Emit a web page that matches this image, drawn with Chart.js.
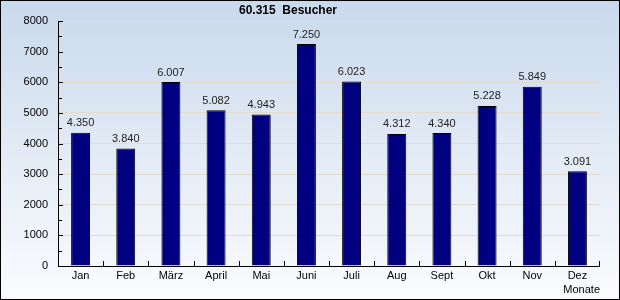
<!DOCTYPE html>
<html>
<head>
<meta charset="utf-8">
<script src="https://cdn.jsdelivr.net/npm/chart.js@4/dist/chart.umd.min.js"></script>
<style>
  html, body { margin: 0; padding: 0; background: #fff; }
  #wrap { width: 620px; height: 300px; }
</style>
</head>
<body>
<div id="wrap"><canvas id="besucherChart" width="620" height="300"></canvas></div>
<script>
var monate = ['Jan', 'Feb', 'März', 'April', 'Mai', 'Juni', 'Juli', 'Aug', 'Sept', 'Okt', 'Nov', 'Dez'];
var besucher = [4350, 3840, 6007, 5082, 4943, 7250, 6023, 4312, 4340, 5228, 5849, 3091];
var titelText = '60.315  Besucher';
var achsenTitel = 'Monate';

function fmt(v) {
    return v.toString().replace(/\B(?=(\d{3})+(?!\d))/g, '.');
}

// background gradient + frame
var hintergrund = {
    id: 'hintergrund',
    beforeDraw: function(chart) {
        var ctx = chart.ctx;
        var g = ctx.createLinearGradient(0, 0, 0, chart.height);
        g.addColorStop(0, '#c9d9ec');
        g.addColorStop(1, '#fbfcfe');
        ctx.save();
        ctx.fillStyle = g;
        ctx.fillRect(0, 0, chart.width, chart.height);
        ctx.strokeStyle = '#000';
        ctx.lineWidth = 1;
        ctx.strokeRect(0.5, 0.5, chart.width - 1, chart.height - 1);
        ctx.restore();
    }
};

// inward ticks, axis lines, value labels, title
var extras = {
    id: 'extras',
    afterDatasetsDraw: function(chart) {
        var ctx = chart.ctx;
        var area = chart.chartArea;
        var xs = chart.scales.x, ys = chart.scales.y;
        var left = Math.round(area.left), bottom = Math.round(area.bottom);
        ctx.save();
        ctx.strokeStyle = '#000';
        ctx.lineWidth = 1;
        ctx.beginPath();
        ctx.moveTo(left + 0.5, area.top);
        ctx.lineTo(left + 0.5, bottom + 0.5);
        ctx.lineTo(area.right, bottom + 0.5);
        // y ticks
        for (var v = 0; v <= 8000; v += 500) {
            var y = Math.round(ys.getPixelForValue(v)) + 0.5;
            var len = (v % 1000 === 0) ? 5 : 4;
            ctx.moveTo(left, y);
            ctx.lineTo(left + len, y);
        }
        // x ticks between categories
        var step = xs.getPixelForValue(1) - xs.getPixelForValue(0);
        for (var i = 0; i < monate.length; i++) {
            var x = Math.round(xs.getPixelForValue(i) + step / 2);
            if (i === monate.length - 1) x = Math.round(area.right) - 1;
            ctx.moveTo(x + 0.5, bottom);
            ctx.lineTo(x + 0.5, bottom - 5);
        }
        ctx.stroke();

        // value labels
        ctx.fillStyle = '#222';
        ctx.font = '11px "Liberation Sans", Arial, sans-serif';
        ctx.textAlign = 'center';
        ctx.textBaseline = 'bottom';
        chart.getDatasetMeta(0).data.forEach(function(bar, idx) {
            ctx.fillText(fmt(besucher[idx]), bar.x, bar.y - 4);
        });

        // title
        ctx.fillStyle = '#000';
        ctx.font = 'bold 12px "Liberation Sans", Arial, sans-serif';
        ctx.textBaseline = 'middle';
        ctx.fillText(titelText, 288, 11);
        ctx.restore();
    }
};

var chart = new Chart(document.getElementById('besucherChart'), {
    type: 'bar',
    data: {
        labels: monate,
        datasets: [{
            label: 'Besucher',
            data: besucher,
            backgroundColor: '#000080',
            borderColor: '#000',
            borderWidth: 1,
            borderSkipped: 'bottom',
            categoryPercentage: 0.42,
            barPercentage: 1.0
        }]
    },
    options: {
        responsive: false,
        animation: false,
        layout: { padding: { top: 21, right: 20, left: 0, bottom: 0 } },
        plugins: {
            legend: { display: false },
            tooltip: { enabled: false }
        },
        scales: {
            x: {
                afterFit: function(axis) { axis.height = 34; },
                grid: { display: false },
                border: { display: false },
                ticks: {
                    color: '#000',
                    padding: -5,
                    font: { family: '"Liberation Sans", Arial, sans-serif', size: 11 }
                },
                title: {
                    display: true,
                    text: achsenTitel,
                    align: 'end',
                    color: '#000',
                    padding: { top: 0, bottom: 3 },
                    font: { family: '"Liberation Sans", Arial, sans-serif', size: 11 }
                }
            },
            y: {
                min: 0,
                max: 8000,
                afterFit: function(axis) { axis.width = 58; },
                border: { display: false },
                grid: {
                    drawTicks: false,
                    color: function(c) {
                        if (c.tick && c.tick.value % 1000 === 0 && c.tick.value !== 0) return '#e2dccf';
                        return 'rgba(0,0,0,0)';
                    }
                },
                ticks: {
                    stepSize: 500,
                    color: '#000',
                    padding: 10,
                    font: { family: '"Liberation Sans", Arial, sans-serif', size: 11 },
                    callback: function(v) { return v % 1000 === 0 ? v : ''; }
                }
            }
        }
    },
    plugins: [hintergrund, extras]
});
</script>
</body>
</html>
